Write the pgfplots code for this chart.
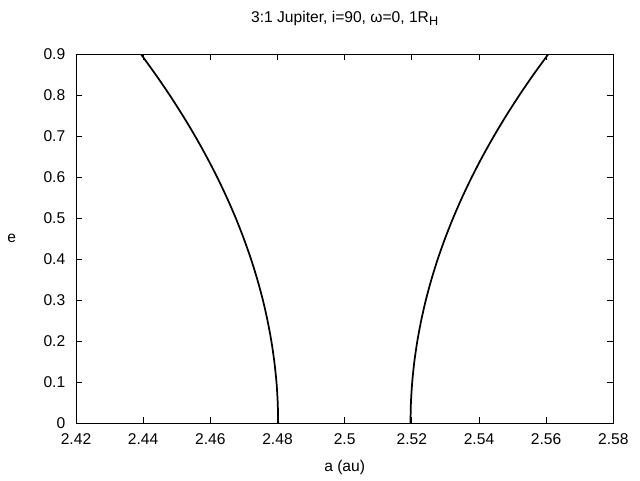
\documentclass[border=0pt]{standalone}
\usepackage{fontspec}
\setmainfont{Liberation Sans}
\usepackage{pgfplots}
\pgfplotsset{compat=1.18}
\begin{document}
\begin{tikzpicture}
\path (-57pt,-42.5pt) rectangle (423pt,317.5pt);
\begin{axis}[
  at={(0,0)}, anchor=south west,
  scale only axis, width=403pt, height=277pt,
  xmin=2.42, xmax=2.58, ymin=0, ymax=0.9,
  xtick={2.42,2.44,...,2.58},
  ytick={0,0.1,...,0.9},
  xticklabels={2.42,2.44,2.46,2.48,2.5,2.52,2.54,2.56,2.58},
  yticklabels={0,0.1,0.2,0.3,0.4,0.5,0.6,0.7,0.8,0.9},
  tick align=inside, major tick length=4.5pt,
  tick style={black, line width=0.6pt},
  axis line style={line width=0.6pt},
  font=\fontsize{11.7}{14}\selectfont,
  /pgf/number format/assume math mode=true,
  xticklabel style={inner sep=0pt, anchor=north, yshift=-7.3pt},
  yticklabel style={inner sep=0pt, anchor=east, xshift=-7.9pt},
  xlabel={a (au)}, ylabel={e},
  xlabel style={at={(axis description cs:0.5,0)}, anchor=north, inner sep=0pt, yshift=-27.5pt},
  ylabel style={rotate=-90, at={(axis description cs:0,0.5)}, anchor=center, xshift=-48.2pt},
  title={3:1 Jupiter, i=90, ω=0, 1R\raisebox{-0.35ex}{\fontsize{9.5}{11}\selectfont H}},
  title style={at={(axis description cs:0.5,1)}, anchor=base, inner sep=0pt, yshift=17.5pt},
]
\addplot[black, line width=1.3pt, smooth] coordinates {
(2.48020,0) (2.48007,0.05) (2.47970,0.1) (2.47906,0.15) (2.47818,0.2) (2.47704,0.25) (2.47566,0.3) (2.47401,0.35) (2.47212,0.4) (2.46997,0.45) (2.46758,0.5) (2.46492,0.55) (2.46202,0.6) (2.45886,0.65) (2.45546,0.7) (2.45179,0.75) (2.44788,0.8) (2.44371,0.85) (2.43930,0.9)
};
\addplot[black, line width=1.3pt, smooth] coordinates {
(2.51960,0) (2.51973,0.05) (2.52011,0.1) (2.52074,0.15) (2.52163,0.2) (2.52277,0.25) (2.52416,0.3) (2.52581,0.35) (2.52771,0.4) (2.52987,0.45) (2.53228,0.5) (2.53494,0.55) (2.53785,0.6) (2.54102,0.65) (2.54444,0.7) (2.54812,0.75) (2.55205,0.8) (2.55623,0.85) (2.56067,0.9)
};
\end{axis}
\end{tikzpicture}
\end{document}
